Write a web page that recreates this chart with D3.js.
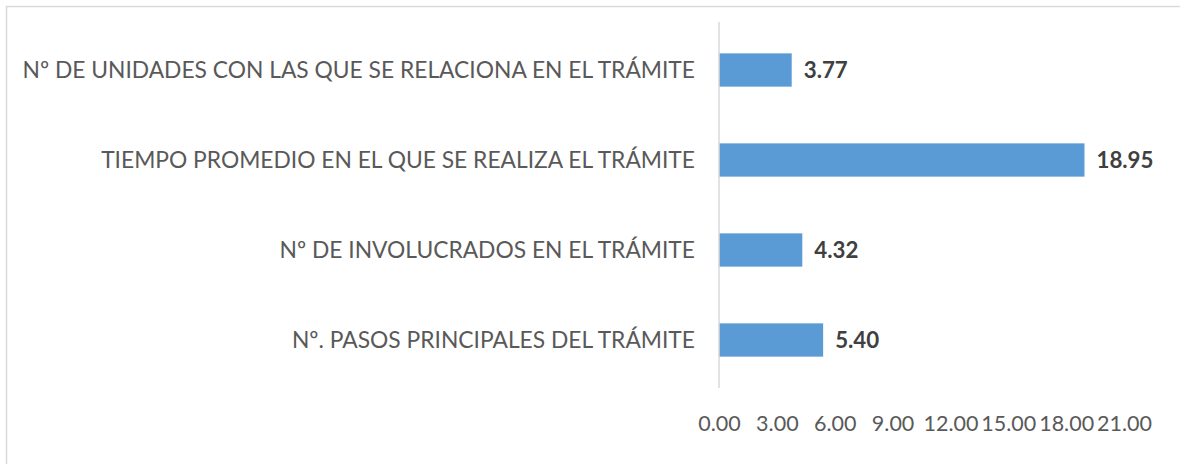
<!DOCTYPE html>
<html>
<head>
<meta charset="utf-8">
<script src="https://cdn.jsdelivr.net/npm/d3@7"></script>
<style>
  body { margin: 0; background: #fff; }
  svg { font-family: Lato, "Open Sans", sans-serif; }
</style>
</head>
<body>
<svg width="1180" height="464"></svg>
<script>
// Data
var categories = [
  'Nº DE UNIDADES CON LAS QUE SE RELACIONA EN EL TRÁMITE',
  'TIEMPO PROMEDIO EN EL QUE SE REALIZA EL TRÁMITE',
  'Nº DE INVOLUCRADOS EN EL TRÁMITE',
  'Nº. PASOS PRINCIPALES DEL TRÁMITE'
];
var values = [3.77, 18.95, 4.32, 5.40];
var ticks = [0, 3, 6, 9, 12, 15, 18, 21];

var svg = d3.select('svg');

// chart border
svg.append('rect')
  .attr('x', 6.5).attr('y', 6.5)
  .attr('width', 1180).attr('height', 470)
  .attr('fill', 'none')
  .attr('stroke', '#d9d9d9')
  .attr('stroke-width', 1.5);

var x = d3.scaleLinear().domain([0, 21]).range([719, 1124]);
var y = d3.scaleBand().domain(categories).range([25, 385]).paddingInner(0.63).paddingOuter(0.315);

// bars
svg.selectAll('.bar')
  .data(values).enter()
  .append('rect')
  .attr('fill', '#5b9bd5')
  .attr('x', x(0))
  .attr('y', (d, i) => y(categories[i]))
  .attr('width', d => x(d) - x(0))
  .attr('height', y.bandwidth());

// vertical axis line
svg.append('line')
  .attr('x1', x(0)).attr('x2', x(0))
  .attr('y1', 22).attr('y2', 388)
  .attr('stroke', '#d9d9d9')
  .attr('stroke-width', 1.5);

// category labels
svg.selectAll('.cat')
  .data(categories).enter()
  .append('text')
  .attr('x', 695)
  .attr('y', d => y(d) + y.bandwidth() / 2)
  .attr('dy', '0.35em')
  .attr('text-anchor', 'end')
  .attr('fill', '#595959')
  .style('font-size', '22.8px')
  .text(d => d);

// value labels
svg.selectAll('.val')
  .data(values).enter()
  .append('text')
  .attr('x', d => x(d) + 12)
  .attr('y', (d, i) => y(categories[i]) + y.bandwidth() / 2)
  .attr('dy', '0.35em')
  .attr('fill', '#404040')
  .style('font-size', '22.3px')
  .style('font-weight', 'bold')
  .text(d => d3.format('.2f')(d));

// x axis tick labels
var xAxis = d3.axisBottom(x).tickValues(ticks).tickFormat(d3.format('.2f')).tickSize(0).tickPadding(0);
var gx = svg.append('g').attr('transform', 'translate(0,416)').call(xAxis);
gx.select('.domain').remove();
gx.selectAll('text')
  .attr('fill', '#595959')
  .style('font-family', 'Lato, "Open Sans", sans-serif')
  .style('font-size', '21.5px');
</script>
</body>
</html>
